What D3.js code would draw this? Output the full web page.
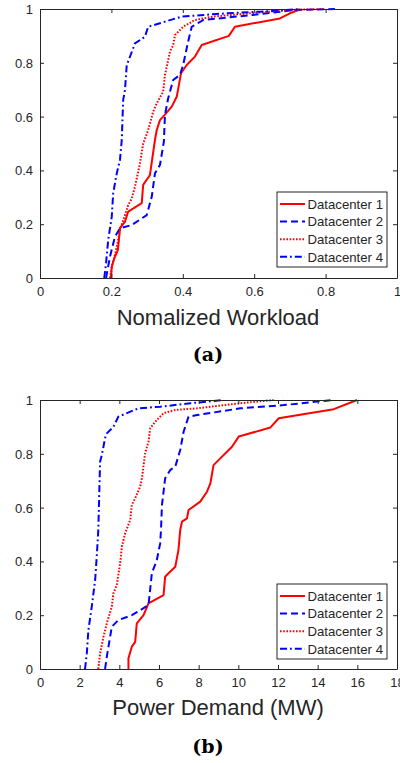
<!DOCTYPE html>
<html><head><meta charset="utf-8">
<script src="https://cdn.jsdelivr.net/npm/d3@7"></script>
<style>body{margin:0;background:#fff}svg{display:block}</style>
</head><body>
<svg id="c" width="400" height="763"></svg>
<script>
const seriesNames = ["Datacenter 1","Datacenter 2","Datacenter 3","Datacenter 4"];
// (a) Normalized workload CDFs
const wl1x = [0.199,0.201,0.208,0.218,0.221,0.224,0.238,0.247,0.285,0.289,0.308,0.322,0.327,0.336,0.345,0.369,0.383,0.389,0.395,0.411,0.434,0.453,0.529,0.546,0.672,0.700,0.724,0.728];
const wl1p = [0,0.042,0.073,0.104,0.141,0.186,0.209,0.247,0.278,0.346,0.383,0.513,0.55,0.587,0.6,0.637,0.674,0.717,0.761,0.792,0.823,0.866,0.9,0.934,0.965,0.984,0.996,1];
const wl2x = [0.185,0.196,0.210,0.224,0.257,0.299,0.313,0.322,0.336,0.347,0.350,0.359,0.373,0.392,0.401,0.415,0.425,0.457,0.597,0.710,0.826];
const wl2p = [0,0.079,0.154,0.185,0.197,0.234,0.302,0.389,0.42,0.507,0.606,0.668,0.736,0.755,0.792,0.879,0.934,0.959,0.978,0.996,1];
const wl3x = [0.196,0.202,0.210,0.219,0.224,0.247,0.257,0.266,0.280,0.289,0.303,0.317,0.327,0.345,0.350,0.364,0.373,0.378,0.401,0.434,0.485,0.588,0.696,0.794];
const wl3p = [0,0.048,0.086,0.141,0.178,0.271,0.296,0.339,0.426,0.5,0.55,0.618,0.649,0.693,0.755,0.841,0.866,0.903,0.934,0.959,0.972,0.984,0.996,1];
const wl4x = [0.180,0.185,0.191,0.201,0.205,0.215,0.224,0.229,0.233,0.238,0.243,0.261,0.266,0.294,0.303,0.336,0.397,0.523,0.616,0.728];
const wl4p = [0,0.055,0.141,0.228,0.315,0.389,0.439,0.513,0.662,0.699,0.792,0.854,0.872,0.897,0.934,0.947,0.972,0.984,0.99,1];
// (b) Power demand CDFs (MW)
const pd1x = [4.46,4.46,4.63,4.80,4.88,5.22,5.47,6.23,6.31,6.48,6.82,6.98,7.07,7.16,7.41,7.49,8.08,8.42,8.59,8.75,9.09,9.68,10.02,11.62,12.04,14.81,15.99];
const pd1p = [0,0.04,0.083,0.101,0.17,0.2,0.244,0.275,0.343,0.356,0.38,0.442,0.517,0.548,0.56,0.591,0.622,0.659,0.69,0.758,0.783,0.826,0.864,0.898,0.932,0.966,1];
const pd2x = [3.28,3.37,3.62,3.95,4.63,5.22,5.47,5.56,5.64,5.89,6.06,6.10,6.15,6.31,6.57,6.82,7.07,7.24,7.49,7.91,10.10,12.29,13.97,14.81];
const pd2p = [0,0.046,0.157,0.182,0.2,0.226,0.238,0.3,0.356,0.405,0.467,0.517,0.61,0.709,0.74,0.752,0.814,0.882,0.938,0.944,0.969,0.981,0.994,1];
const pd3x = [2.94,3.03,3.20,3.37,3.62,3.70,3.87,4.04,4.13,4.29,4.55,4.63,4.80,5.05,5.14,5.30,5.47,5.56,5.89,6.23,6.82,7.91,10.10,11.78];
const pd3p = [0,0.058,0.12,0.17,0.232,0.281,0.312,0.393,0.455,0.504,0.554,0.61,0.635,0.678,0.709,0.802,0.845,0.895,0.926,0.951,0.963,0.969,0.988,1];
const pd4x = [2.27,2.36,2.44,2.61,2.78,2.86,2.94,2.99,3.03,3.12,3.28,3.37,3.70,3.95,4.96,6.06,7.58,9.26];
const pd4p = [0,0.058,0.145,0.232,0.331,0.417,0.517,0.659,0.771,0.796,0.858,0.876,0.9,0.938,0.969,0.975,0.988,1];

const xTicksA = [0,0.2,0.4,0.6,0.8,1];
const xTicksB = [0,2,4,6,8,10,12,14,16,18];
const yTicks = [0,0.2,0.4,0.6,0.8,1];

const colors = ["#ff0000","#0000ff","#ff0000","#0000ff"];
const dashes = ["none","7,4","1.6,1.6","7,3,1.8,3"];

const svg = d3.select("#c");
const axisColor = "#262626";
const font = "'Liberation Sans', Arial, Helvetica, sans-serif";

function panel(opt){
  const g = svg.append("g");
  const x = d3.scaleLinear().domain(opt.xDomain).range([40,397]);
  const y = d3.scaleLinear().domain([0,1]).range([opt.bottom, opt.top]);
  const line = d3.line().x(d=>x(d[0])).y(d=>y(d[1]));
  opt.series.forEach((s,i)=>{
    const pts = s[0].map((v,k)=>[v,s[1][k]]);
    g.append("path").attr("d",line(pts)).attr("fill","none")
      .attr("stroke",colors[i]).attr("stroke-width",2)
      .attr("stroke-dasharray",dashes[i]).attr("stroke-linejoin","round");
  });
  const fmt = d=>String(d);
  const ax = d3.axisBottom(x).tickValues(opt.xTicks).tickFormat(fmt).tickSizeInner(-4).tickSizeOuter(0).tickPadding(9);
  const axT = d3.axisTop(x).tickValues(opt.xTicks).tickFormat("").tickSizeInner(-4).tickSizeOuter(0);
  const ay = d3.axisLeft(y).tickValues(yTicks).tickFormat(fmt).tickSizeInner(-4).tickSizeOuter(0).tickPadding(7);
  const ayR = d3.axisRight(y).tickValues(yTicks).tickFormat("").tickSizeInner(-4).tickSizeOuter(0);
  const gb = g.append("g").attr("transform",`translate(0,${opt.bottom})`).call(ax);
  const gt = g.append("g").attr("transform",`translate(0,${opt.top})`).call(axT);
  const gl = g.append("g").attr("transform",`translate(40,0)`).call(ay);
  const gr = g.append("g").attr("transform",`translate(397,0)`).call(ayR);
  [gb,gt,gl,gr].forEach(a=>{
    a.selectAll("path").attr("stroke",axisColor).attr("stroke-width",1);
    a.selectAll("line").attr("stroke",axisColor).attr("stroke-width",1);
    a.selectAll("text").attr("fill",axisColor).style("font-family",font).style("font-size","13px");
  });
  gl.selectAll("text").attr("dy","0.35em");
  g.append("text").attr("x",218).attr("y",opt.labelY).attr("text-anchor","middle")
    .attr("fill",axisColor).style("font-family",font).style("font-size","22px").text(opt.label);
  g.append("text").attr("x",208).attr("y",opt.capY).attr("text-anchor","middle")
    .attr("fill","#000").style("font-family","'DejaVu Serif', serif").style("font-weight","bold").style("font-size","19px").text(opt.caption);
  const lg = g.append("g");
  lg.append("rect").attr("x",277).attr("y",opt.legTop).attr("width",110).attr("height",75)
    .attr("fill","#fff").attr("stroke",axisColor).attr("stroke-width",1);
  seriesNames.forEach((n,i)=>{
    const cy = opt.legTop + 12 + i*17.6;
    lg.append("line").attr("x1",280).attr("x2",305).attr("y1",cy).attr("y2",cy)
      .attr("stroke",colors[i]).attr("stroke-width",2).attr("stroke-dasharray",dashes[i]);
    lg.append("text").attr("x",307.5).attr("y",cy).attr("dy","0.36em").attr("fill",axisColor)
      .style("font-family",font).style("font-size","13.2px").text(n);
  });
}

panel({xDomain:[0,1], xTicks:xTicksA, top:9, bottom:278, label:"Nomalized Workload", labelY:325, caption:"(a)", capY:361, legTop:192,
  series:[[wl1x,wl1p],[wl2x,wl2p],[wl3x,wl3p],[wl4x,wl4p]]});
panel({xDomain:[0,18], xTicks:xTicksB, top:400, bottom:669, label:"Power Demand (MW)", labelY:715, caption:"(b)", capY:753, legTop:584,
  series:[[pd1x,pd1p],[pd2x,pd2p],[pd3x,pd3p],[pd4x,pd4p]]});
</script>
</body></html>
